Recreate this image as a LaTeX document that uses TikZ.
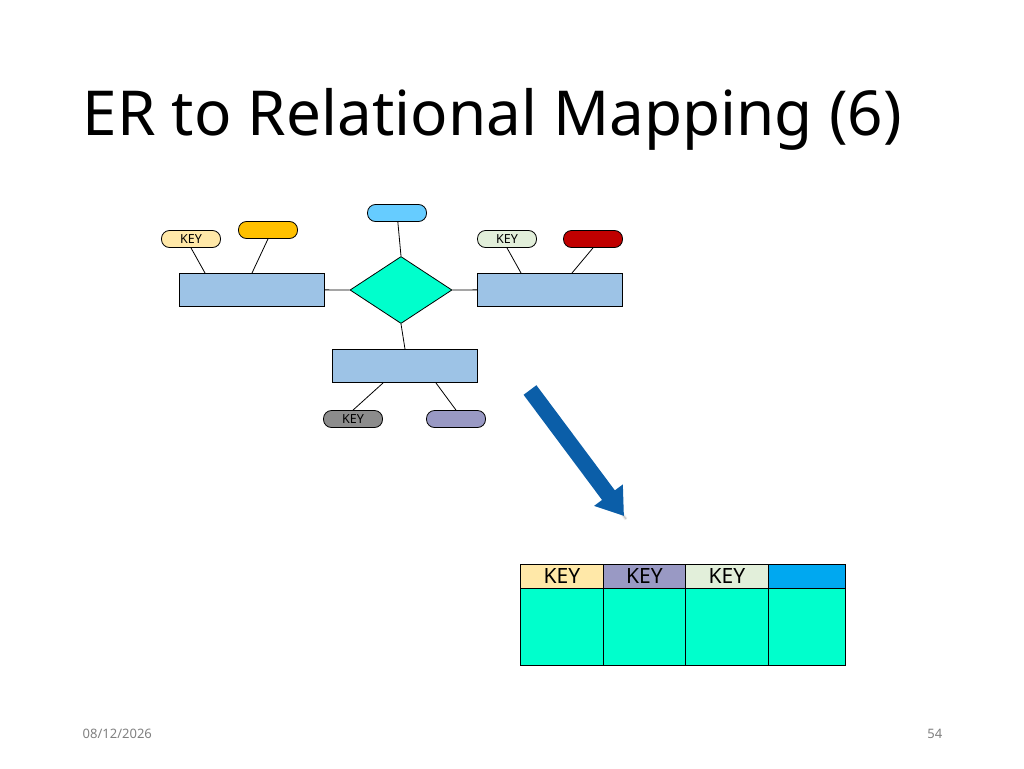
\documentclass[tikz,border=0pt]{standalone}
\usepackage{fontspec}
\setmainfont{Noto Sans}
\usetikzlibrary{shapes.geometric,arrows.meta,shadows.blur}
\definecolor{ent}{HTML}{9DC3E6}
\definecolor{rel}{HTML}{00FFCC}
\definecolor{k1}{HTML}{FFE8A8}
\definecolor{k2}{HTML}{E2EFDA}
\definecolor{k3}{HTML}{8C8C8C}
\definecolor{k4}{HTML}{9999C4}
\definecolor{orng}{HTML}{FFC000}
\definecolor{redd}{HTML}{C00000}
\definecolor{sky}{HTML}{66CCFF}
\definecolor{arr}{HTML}{0B5EA8}
\definecolor{hdr}{HTML}{00A8F0}
\begin{document}
\begin{tikzpicture}[x=1pt,y=-1pt,
  ent/.style={draw,fill=ent,minimum width=145pt,minimum height=33pt,inner sep=0pt},
  pill/.style={draw,rounded corners=8pt,minimum width=59pt,minimum height=17pt,inner sep=0pt,font=\fontsize{12.5}{12.5}\selectfont},
  cell/.style={draw,minimum height=24pt,inner sep=0pt,font=\fontsize{21}{21}\selectfont,anchor=north west},
  body/.style={draw,fill=rel,minimum height=77pt,inner sep=0pt,anchor=north west},
  every path/.style={line width=0.8pt}]
\useasboundingbox (0,0) rectangle (1024,768);
\node[anchor=base west,font=\fontsize{62}{62}\selectfont] (title) at (79,135) {ER to Relational Mapping (6)};
\node[ent] (L) at (251.5,289.5) {};
\node[ent] (R) at (550,289.5) {};
\node[ent] (B) at (405,366) {};
\node[diamond,draw,fill=rel,minimum width=102pt,minimum height=67pt,inner sep=0pt,aspect=1.5] (D) at (401,290) {};
\node[pill,fill=sky] (p0) at (397,213) {};
\node[pill,fill=k1] (p1) at (191,239) {KEY};
\node[pill,fill=orng] (p2) at (268,230) {};
\node[pill,fill=k2] (p3) at (507,239) {KEY};
\node[pill,fill=redd] (p4) at (593,239) {};
\node[pill,fill=k3] (p5) at (353,419) {KEY};
\node[pill,fill=k4] (p6) at (456,419) {};
\draw (L) -- (D.west);
\draw (D.east) -- (R);
\draw (p0) -- (D.north);
\draw (D.south) -- (B.north);
\draw (p1.south) -- (205,273);
\draw (p2.south) -- (252,273);
\draw (p3.south) -- (521,273);
\draw (p4.south) -- (572,273);
\draw (383,383) -- (p5.north);
\draw (436,383) -- (p6.north);
\coordinate (a1) at (530,390);
\coordinate (a2) at (624,516);
\draw[line width=16pt,arr,-{Triangle[length=26pt,width=34pt]},blur shadow={shadow xshift=2pt,shadow yshift=-3pt,shadow opacity=40}] (a1) -- (a2);
\node[cell,fill=k1,minimum width=83pt] (h1) at (520,564) {KEY};
\node[cell,fill=k4,minimum width=82pt] (h2) at (603,564) {KEY};
\node[cell,fill=k2,minimum width=83pt] (h3) at (685,564) {KEY};
\node[cell,fill=hdr,minimum width=77pt] (h4) at (768,564) {};
\node[body,minimum width=83pt] (b1) at (520,588) {};
\node[body,minimum width=82pt] (b2) at (603,588) {};
\node[body,minimum width=83pt] (b3) at (685,588) {};
\node[body,minimum width=77pt] (b4) at (768,588) {};
\node[anchor=west,text=gray,font=\fontsize{13}{13}\selectfont] (date) at (79,734) {08/12/2026};
\node[anchor=east,text=gray,font=\fontsize{13}{13}\selectfont] (pg) at (946,734) {54};
\end{tikzpicture}
\end{document}
